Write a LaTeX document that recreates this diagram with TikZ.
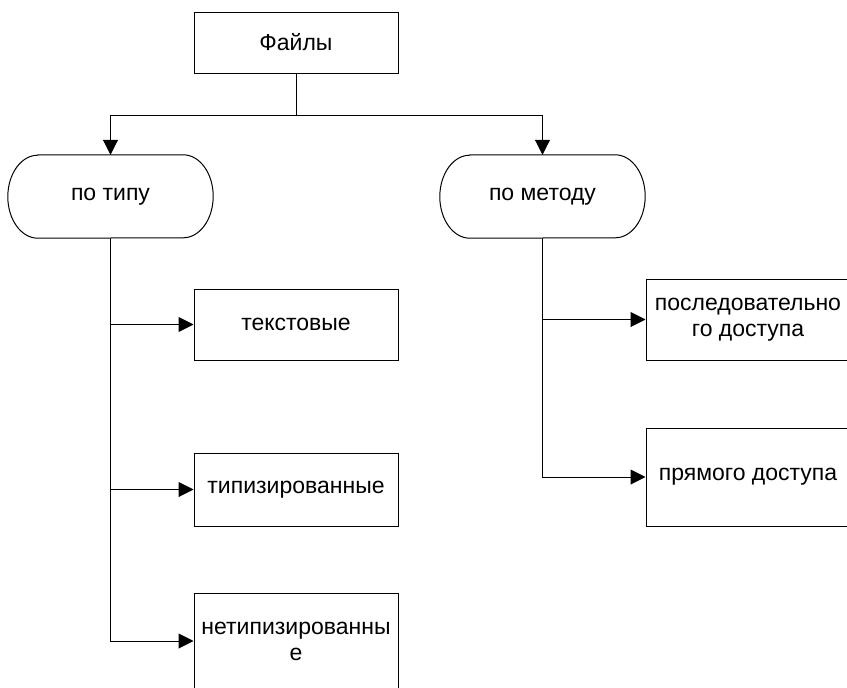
\documentclass[tikz,border=0pt]{standalone}
\usepackage{fontspec}
\setmainfont{Liberation Sans}
\usetikzlibrary{arrows.meta}
\begin{document}
\begin{tikzpicture}[x=1pt,y=-1pt,
  every node/.style={font=\fontsize{23}{26}\selectfont, inner sep=0pt},
  box/.style={draw, line width=1pt, minimum width=204pt, align=center},
  stadium/.style={minimum width=205pt, minimum height=83pt},
  conn/.style={line width=1pt},
  arr/.style={conn, -{Triangle[length=15pt,width=15pt]}}]
\path[use as bounding box] (0,0) rectangle (847,688);
\clip (0,0) rectangle (847,688);

% root
\node[box, minimum height=61pt] (files) at (296,42.5) {Файлы};

% the two groups (drawn as stadiums with elliptic ends)
\node[stadium] (type) at (110.5,196.5) {по типу};
\node[stadium] (method) at (542.5,196.5) {по методу};
\foreach \n in {type,method}{
  \draw[line width=1pt]
    ([xshift=30pt]\n.north west) -- ([xshift=-30pt]\n.north east)
    arc[start angle=90,end angle=-90,x radius=30pt,y radius=41.5pt]
    -- ([xshift=30pt]\n.south west)
    arc[start angle=270,end angle=90,x radius=30pt,y radius=41.5pt]
    -- cycle;
}

% kinds by type
\node[box, minimum height=71pt] (text) at (296,324.5) {текстовые};
\node[box, minimum height=73pt] (typed) at (296,489.5) {типизированные};
\node[box, minimum height=96pt] (untyped) at (296,641) {нетипизированны\\е};

% kinds by access method
\node[box, minimum height=81pt] (seq) at (748,319.5) {последовательно\\го доступа};
\node[box, minimum height=98pt] (direct) at (748,477) {прямого доступа};

% connectors
\draw[conn] (files.south) -- ++(0,41.5) coordinate (fork);
\draw[arr] (fork) -| (type.north);
\draw[arr] (fork) -| (method.north);

\draw[arr] (type.south) |- (text.west);
\draw[arr] (type.south) |- (typed.west);
\draw[arr] (type.south) |- (untyped.west);

\draw[arr] (method.south) |- (seq.west);
\draw[arr] (method.south) |- (direct.west);
\end{tikzpicture}
\end{document}
